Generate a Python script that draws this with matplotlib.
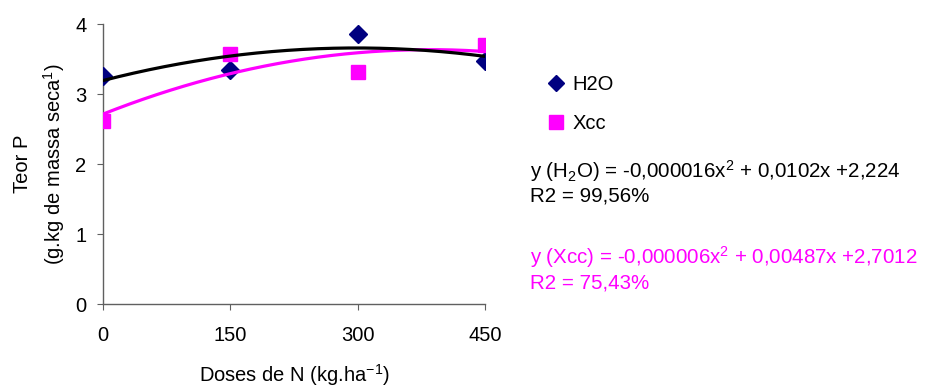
import numpy as np
import matplotlib
matplotlib.use('Agg')
import matplotlib.pyplot as plt
from matplotlib.lines import Line2D

plt.rcParams['font.family'] = ['Liberation Sans', 'DejaVu Sans']
plt.rcParams['mathtext.default'] = 'regular'

# data
doses = [0, 150, 300, 450]
h2o = [3.26, 3.34, 3.86, 3.47]
xcc = [2.62, 3.57, 3.31, 3.70]
xticks = [0, 150, 300, 450]
yticks = [0, 1, 2, 3, 4]

eq_h2o = 'y (H$_2$O) = -0,000016x$^2$ + 0,0102x +2,224'
r2_h2o = 'R2 = 99,56%'
eq_xcc = 'y (Xcc) = -0,000006x$^2$ + 0,00487x +2,7012'
r2_xcc = 'R2 = 75,43%'

NAVY = '#000080'
PINK = '#FF00FF'
FS = 14.5

fig = plt.figure(figsize=(9.31, 3.86), dpi=100)
ax = fig.add_axes([103 / 931, 1 - 304 / 386, 382 / 931, 280 / 386])

# second order trend lines fitted to the points
xs = np.linspace(0, 450, 200)
fit_h2o = np.polyval(np.polyfit(doses, h2o, 2), xs)
fit_xcc = np.polyval(np.polyfit(doses, xcc, 2), xs)

ax.plot(doses, h2o, 'D', color=NAVY, markersize=9, zorder=3)
ax.plot(doses, xcc, 's', color=PINK, markersize=10, zorder=3)
ax.plot(xs, fit_xcc, color=PINK, lw=2.3, zorder=4)
ax.plot(xs, fit_h2o, color='black', lw=2.3, zorder=5)

ax.set_xlim(0, 450)
ax.set_ylim(0, 4)
ax.set_xticks(xticks)
ax.set_yticks(yticks)
for s in ['top', 'right']:
    ax.spines[s].set_visible(False)
for s in ['left', 'bottom']:
    ax.spines[s].set_color('#606060')
    ax.spines[s].set_linewidth(1)
ax.tick_params(axis='both', colors='#606060', labelcolor='black', labelsize=FS, length=4)
ax.tick_params(axis='x', pad=12)
ax.tick_params(axis='y', pad=8)
for lab in ax.get_xticklabels() + ax.get_yticklabels():
    lab.set_clip_on(False)
for s in ax.spines.values():
    s.set_clip_on(False)

ax.set_xlabel('Doses de N (kg.ha$^{-1}$)', fontsize=FS, labelpad=12)
ax.set_ylabel('Teor P\n(g.kg de massa seca$^{1}$)', fontsize=FS, labelpad=6,
              multialignment='center', linespacing=1.45)

handles = [Line2D([], [], ls='none', marker='D', color=NAVY, markersize=8),
           Line2D([], [], ls='none', marker='s', color=PINK, markersize=10)]
fig.legend(handles, ['H2O', 'Xcc'], loc='upper left',
           bbox_to_anchor=(549 / 931, 1 - 75 / 386), frameon=False,
           fontsize=FS, handlelength=0.7, handletextpad=0.45, labelspacing=1.0,
           borderpad=0, borderaxespad=0)

EQ_FS = 14.8
fig.text(530 / 931, 1 - 171 / 386, eq_h2o, fontsize=EQ_FS, va='center', color='black')
fig.text(530 / 931, 1 - 196 / 386, r2_h2o, fontsize=EQ_FS, va='center', color='black')
fig.text(530 / 931, 1 - 257 / 386, eq_xcc, fontsize=EQ_FS, va='center', color=PINK)
fig.text(530 / 931, 1 - 283 / 386, r2_xcc, fontsize=EQ_FS, va='center', color=PINK)

fig.savefig('out.png', dpi=100)
